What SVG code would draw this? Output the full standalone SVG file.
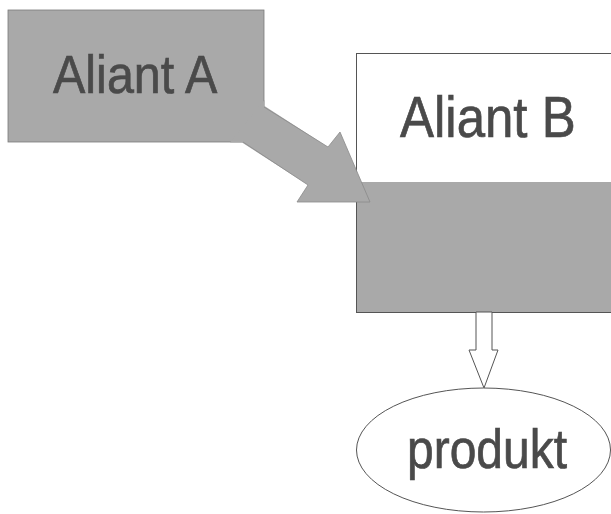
<svg xmlns="http://www.w3.org/2000/svg" width="611" height="514" viewBox="0 0 611 514">
<style>
.lbl{font-family:"Liberation Sans",Arial,sans-serif;fill:#4a4a4a;stroke:#4a4a4a;stroke-width:0.6;font-size:48px}
.gray{fill:#a9a9a9}
</style>
<rect width="611" height="514" fill="#fff"/>
<g id="aliantA">
<rect class="gray" x="8" y="10" width="256" height="132" stroke="#7a7a7a" stroke-width="0.8"/>
<text class="lbl" transform="translate(53,93) scale(1,1.12)" style="font-size:48.5px">Aliant A</text>
</g>
<g id="aliantB">
<rect x="356.5" y="53.5" width="256" height="259" fill="#fff" stroke="#555" stroke-width="1"/>
<rect class="gray" x="357" y="182" width="254" height="130"/>
<text class="lbl" transform="translate(400,137) scale(1,1.14)" style="font-size:51px">Aliant B</text>
</g>
<g id="produkt">
<ellipse cx="483.5" cy="450" rx="127" ry="62" fill="#fff" stroke="#555" stroke-width="1"/>
<text class="lbl" transform="translate(407,468) scale(1,1.15)">produkt</text>
</g>
<g id="connectors">
<polygon class="gray" points="264.5,106 328,147 340,132 370,202 297,202 308,185 242,142.5 230,142.5 264.5,100"/>
<polyline points="264,107 328,147 340,132 370,202 297,202 308,185 243,142" fill="none" stroke="#8a8a8a" stroke-width="0.8"/>
<polygon points="476,312 492,312 492,350 498,350 484,388 469,350 476,350" fill="#fff" stroke="#555" stroke-width="1"/>
</g>
</svg>
